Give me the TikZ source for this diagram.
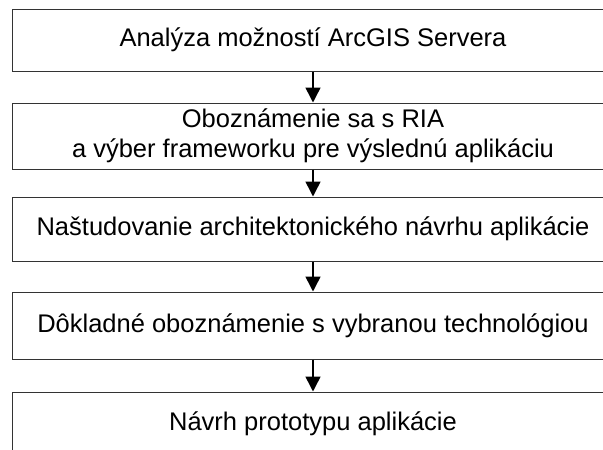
\documentclass[tikz,border=0pt]{standalone}
\usepackage{fontspec}
\setmainfont{Liberation Sans}
\usetikzlibrary{arrows.meta}
\begin{document}
\begin{tikzpicture}[x=1pt,y=-1pt,
  stepbox/.style={draw=black!80, line width=1pt, rectangle, minimum width=602pt, inner sep=0pt, align=center, font=\fontsize{25.5}{30}\selectfont},
  flow/.style={line width=1.5pt, -{Triangle[width=15pt,length=15pt]}}]
\useasboundingbox (0,0) rectangle (603,450);
\clip (0,0) rectangle (603,450);
\fill[white] (0,0) rectangle (603,450);
\node[stepbox, minimum height=62pt] (b1) at (313,40) {Analýza možností ArcGIS Servera};
\node[stepbox, minimum height=66pt] (b2) at (313,136) {Oboznámenie sa s RIA\\a výber frameworku pre výslednú aplikáciu};
\node[stepbox, minimum height=64pt] (b3) at (313,229) {Naštudovanie architektonického návrhu aplikácie};
\node[stepbox, minimum height=67pt] (b4) at (313,325.5) {Dôkladné oboznámenie s vybranou technológiou};
\node[stepbox, minimum height=64pt] (b5) at (313,424) {Návrh prototypu aplikácie};
\draw[flow] (b1.south) -- (b2.north);
\draw[flow] (b2.south) -- (b3.north);
\draw[flow] (b3.south) -- (b4.north);
\draw[flow] (b4.south) -- (b5.north);
\end{tikzpicture}
\end{document}
